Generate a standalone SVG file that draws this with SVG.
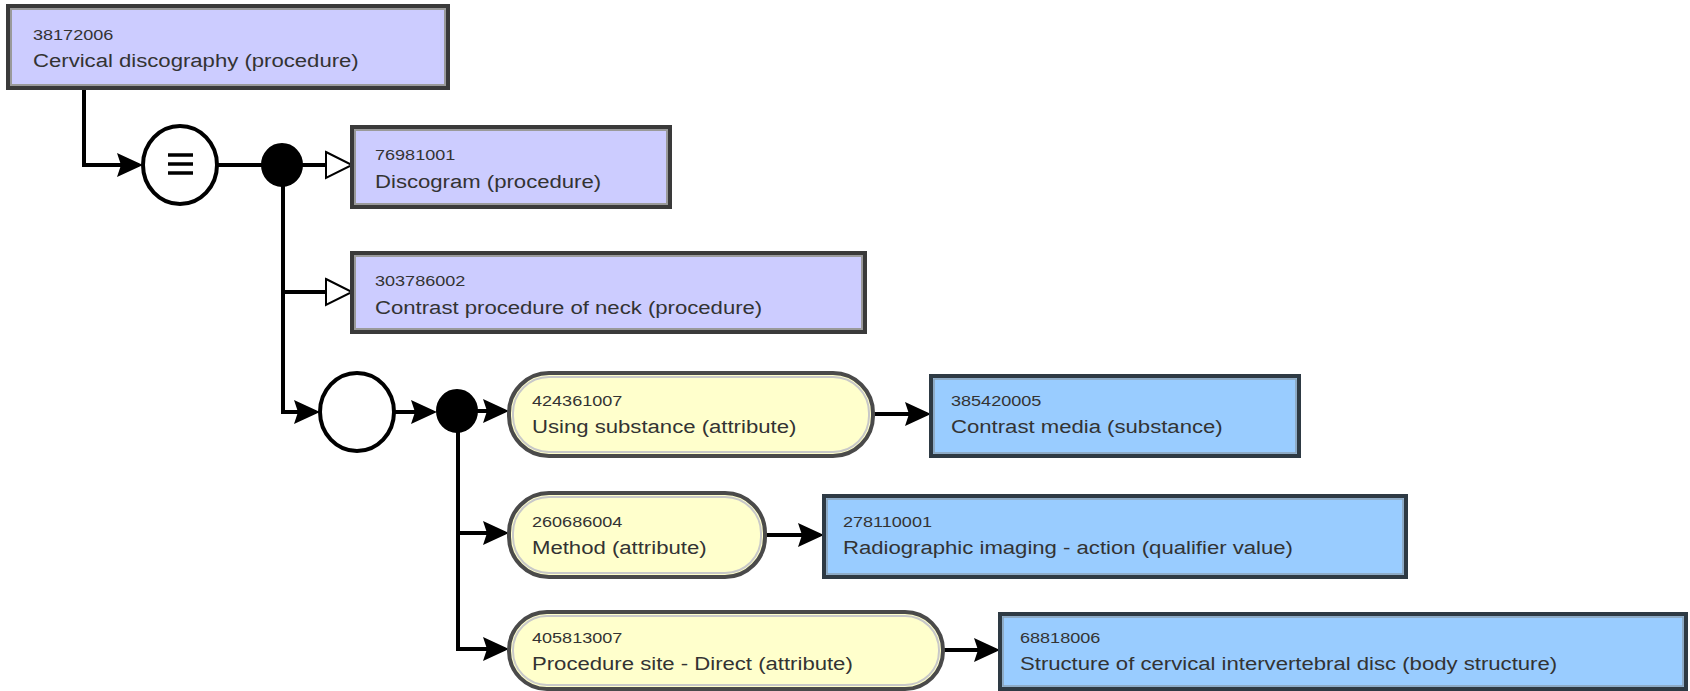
<svg xmlns="http://www.w3.org/2000/svg" width="1690" height="691" viewBox="0 0 1690 691">
<style>
  .proc { fill: #ccccff; stroke: #3a3a3a; stroke-width: 4; }
  .procIn { fill: none; stroke: #9a9a9a; stroke-width: 2; }
  .subst { fill: #99ccff; stroke: #2e3a44; stroke-width: 4; }
  .substIn { fill: none; stroke: #8aa0b4; stroke-width: 1.5; }
  .attr { fill: #ffffcc; stroke: #4a4a4a; stroke-width: 4; }
  .attrIn { fill: none; stroke: #c8c8c8; stroke-width: 2; }
  .num { font-family: "Liberation Sans", Arial, sans-serif; font-size: 15.5px; fill: #333; }
  .lbl { font-family: "Liberation Sans", Arial, sans-serif; font-size: 19px; fill: #333; }
  .conn { fill: none; stroke: #000; stroke-width: 4; }
  .ring { fill: #fff; stroke: #000; stroke-width: 4; }
  .dot { fill: #000; stroke: #000; stroke-width: 2; }
  .eq { stroke: #000; stroke-width: 3.5; }
</style>
<defs>
  <marker id="arrow" markerUnits="userSpaceOnUse" markerWidth="30" markerHeight="28" refX="22" refY="13" orient="auto">
    <path d="M0,1 L26,13 L0,25 L4,13 Z" fill="#000"/>
  </marker>
  <marker id="open" markerUnits="userSpaceOnUse" markerWidth="30" markerHeight="32" refX="27" refY="15" orient="auto">
    <path d="M1,2 L27,15 L1,28 Z" fill="#fff" stroke="#000" stroke-width="2"/>
  </marker>
</defs>

<g id="connectors">
  <path class="conn" d="M84,89 V165 H139" marker-end="url(#arrow)"/>
  <path class="conn" d="M218,165 H262"/>
  <path class="conn" d="M302,165 H352" marker-end="url(#open)"/>
  <path class="conn" d="M283,185 V412 H316" marker-end="url(#arrow)"/>
  <path class="conn" d="M283,292 H352" marker-end="url(#open)"/>
  <path class="conn" d="M395,412 H433" marker-end="url(#arrow)"/>
  <path class="conn" d="M477,411 H505" marker-end="url(#arrow)"/>
  <path class="conn" d="M458,431 V649 H505" marker-end="url(#arrow)"/>
  <path class="conn" d="M458,533 H505" marker-end="url(#arrow)"/>
  <path class="conn" d="M873,414 H927" marker-end="url(#arrow)"/>
  <path class="conn" d="M765,535 H820" marker-end="url(#arrow)"/>
  <path class="conn" d="M943,650 H996" marker-end="url(#arrow)"/>
</g>

<g id="n38172006">
  <rect class="proc" x="8" y="6" width="440" height="82"/>
  <rect class="procIn" x="11" y="9" width="434" height="76"/>
  <text class="num" transform="translate(33,40) scale(1.165,1)">38172006</text>
  <text class="lbl" transform="translate(33,67) scale(1.165,1)">Cervical discography (procedure)</text>
</g>

<g id="definition">
  <ellipse class="ring" cx="180" cy="165" rx="37" ry="39"/>
  <line class="eq" x1="168" y1="155" x2="193" y2="155"/>
  <line class="eq" x1="168" y1="164" x2="193" y2="164"/>
  <line class="eq" x1="168" y1="173" x2="193" y2="173"/>
</g>

<g id="conj1">
  <ellipse class="dot" cx="282" cy="165" rx="20" ry="21"/>
</g>

<g id="n76981001">
  <rect class="proc" x="352" y="127" width="318" height="80"/>
  <rect class="procIn" x="355" y="130" width="312" height="74"/>
  <text class="num" transform="translate(375,160) scale(1.165,1)">76981001</text>
  <text class="lbl" transform="translate(375,188) scale(1.165,1)">Discogram (procedure)</text>
</g>

<g id="n303786002">
  <rect class="proc" x="352" y="253" width="513" height="79"/>
  <rect class="procIn" x="355" y="256" width="507" height="73"/>
  <text class="num" transform="translate(375,286) scale(1.165,1)">303786002</text>
  <text class="lbl" transform="translate(375,314) scale(1.165,1)">Contrast procedure of neck (procedure)</text>
</g>

<g id="group">
  <ellipse class="ring" cx="357" cy="412" rx="37" ry="39"/>
</g>

<g id="conj2">
  <ellipse class="dot" cx="457" cy="411" rx="20" ry="21"/>
</g>

<g id="n424361007">
  <rect class="attr" x="509" y="373" width="364" height="83" rx="40" ry="40"/>
  <rect class="attrIn" x="513" y="377" width="356" height="75" rx="36" ry="36"/>
  <text class="num" transform="translate(532,406) scale(1.165,1)">424361007</text>
  <text class="lbl" transform="translate(532,433) scale(1.165,1)">Using substance (attribute)</text>
</g>

<g id="n385420005">
  <rect class="subst" x="931" y="376" width="368" height="80"/>
  <rect class="substIn" x="934" y="379" width="362" height="74"/>
  <text class="num" transform="translate(951,406) scale(1.165,1)">385420005</text>
  <text class="lbl" transform="translate(951,433) scale(1.165,1)">Contrast media (substance)</text>
</g>

<g id="n260686004">
  <rect class="attr" x="509" y="493" width="256" height="84" rx="40" ry="40"/>
  <rect class="attrIn" x="513" y="497" width="248" height="76" rx="36" ry="36"/>
  <text class="num" transform="translate(532,527) scale(1.165,1)">260686004</text>
  <text class="lbl" transform="translate(532,554) scale(1.165,1)">Method (attribute)</text>
</g>

<g id="n278110001">
  <rect class="subst" x="824" y="496" width="582" height="81"/>
  <rect class="substIn" x="827" y="499" width="576" height="75"/>
  <text class="num" transform="translate(843,527) scale(1.165,1)">278110001</text>
  <text class="lbl" transform="translate(843,554) scale(1.165,1)">Radiographic imaging - action (qualifier value)</text>
</g>

<g id="n405813007">
  <rect class="attr" x="509" y="612" width="434" height="77" rx="38" ry="38"/>
  <rect class="attrIn" x="513" y="616" width="426" height="69" rx="34" ry="34"/>
  <text class="num" transform="translate(532,643) scale(1.165,1)">405813007</text>
  <text class="lbl" transform="translate(532,670) scale(1.165,1)">Procedure site - Direct (attribute)</text>
</g>

<g id="n68818006">
  <rect class="subst" x="1000" y="614" width="686" height="75"/>
  <rect class="substIn" x="1003" y="617" width="680" height="69"/>
  <text class="num" transform="translate(1020,643) scale(1.165,1)">68818006</text>
  <text class="lbl" transform="translate(1020,670) scale(1.165,1)">Structure of cervical intervertebral disc (body structure)</text>
</g>
</svg>
